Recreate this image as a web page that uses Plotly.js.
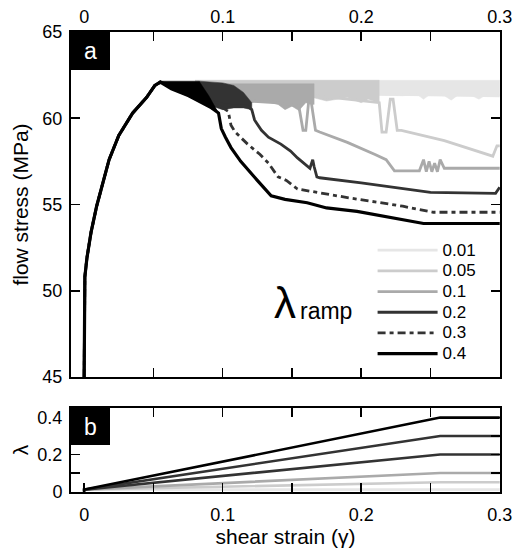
<!DOCTYPE html>
<html>
<head>
<meta charset="utf-8">
<script src="https://cdn.plot.ly/plotly-3.0.1.min.js"></script>
<style>html,body{margin:0;padding:0;background:#fff;}#chart{width:513px;height:556px;}</style>
</head>
<body>
<div id="chart"></div>
<script>
// ---------- data ----------
const lambdaLabels = ['0.01', '0.05', '0.1', '0.2', '0.3', '0.4'];
const lambdaValues = [0.01, 0.05, 0.1, 0.2, 0.3, 0.4];

// shared loading branch (all runs identical up to the peak)
const gammaRise  = [0, 0, 0.0005, 0.002, 0.005, 0.009, 0.0135, 0.018, 0.025, 0.035, 0.045, 0.051, 0.055];
const stressRise = [45, 50, 50.8, 51.9, 53.4, 54.9, 56.2, 57.6, 59.0, 60.3, 61.2, 61.9, 62.1];

// lambda_ramp = 0.01
const gamma001  = [0.07, 0.1, 0.15, 0.2, 0.25, 0.3];
const stress001 = [61.7, 61.6, 61.5, 61.4, 61.35, 61.3];
const bandG001   = [0.08, 0.12, 0.15, 0.17, 0.19, 0.21, 0.23, 0.24, 0.245, 0.25, 0.26, 0.265, 0.27, 0.28, 0.285, 0.29, 0.3];
const bandTop001 = [62.2, 62.2, 62.2, 62.2, 62.2, 62.2, 62.2, 62.2, 62.2, 62.2, 62.2, 62.2, 62.2, 62.2, 62.2, 62.2, 62.2];
const bandBot001 = [61.7, 61.5, 61.45, 61.3, 61.45, 61.35, 61.3, 61.4, 61.1, 61.4, 61.3, 61.05, 61.35, 61.3, 61.1, 61.35, 61.3];

// lambda_ramp = 0.05
const gamma005  = [0.07, 0.12, 0.15, 0.18, 0.2, 0.213, 0.215, 0.218, 0.221, 0.223, 0.226, 0.229, 0.26, 0.295, 0.298, 0.3];
const stress005 = [61.8, 61.7, 61.4, 61.2, 61.0, 60.9, 59.2, 59.2, 61.1, 61.1, 59.3, 59.3, 58.7, 57.8, 58.4, 58.4];
const bandG005   = [0.08, 0.13, 0.16, 0.175, 0.19, 0.2, 0.205, 0.213];
const bandTop005 = [62.2, 62.2, 62.2, 62.2, 62.2, 62.2, 62.2, 62.2];
const bandBot005 = [61.8, 61.6, 61.3, 61.0, 61.2, 60.9, 61.1, 60.9];

// lambda_ramp = 0.1
const gamma010  = [0.07, 0.1, 0.12, 0.14, 0.155, 0.158, 0.16, 0.162, 0.164, 0.167, 0.17, 0.19, 0.21, 0.218, 0.224, 0.242, 0.245, 0.247, 0.249, 0.251, 0.253, 0.255, 0.257, 0.26, 0.3];
const stress010 = [61.8, 61.2, 61.0, 60.9, 60.7, 59.3, 59.3, 60.9, 60.9, 59.3, 59.2, 58.6, 57.9, 57.6, 56.95, 56.95, 57.6, 56.9, 57.5, 56.9, 57.4, 56.9, 57.6, 57.1, 57.1];
const bandG010   = [0.1, 0.12, 0.13, 0.14, 0.145, 0.15, 0.155, 0.16, 0.166];
const bandTop010 = [62.0, 62.0, 62.0, 62.0, 62.0, 62.0, 62.0, 62.0, 62.0];
const bandBot010 = [61.2, 60.9, 61.0, 60.8, 60.5, 60.7, 60.45, 60.9, 60.8];

// lambda_ramp = 0.2
const gamma020  = [0.07, 0.085, 0.1, 0.11, 0.118, 0.121, 0.123, 0.128, 0.133, 0.142, 0.149, 0.154, 0.163, 0.165, 0.166, 0.168, 0.17, 0.185, 0.2, 0.25, 0.297, 0.3];
const stress020 = [61.6, 61.1, 60.8, 60.7, 60.7, 60.5, 59.9, 59.3, 58.9, 58.5, 58.1, 57.7, 57.1, 57.6, 57.2, 56.6, 56.55, 56.4, 56.25, 55.7, 55.65, 56.0];
const bandG020   = [0.083, 0.1, 0.108, 0.115, 0.121];
const bandTop020 = [62.15, 62.05, 61.9, 61.5, 60.9];
const bandBot020 = [60.95, 60.5, 60.6, 60.6, 60.5];

// lambda_ramp = 0.3
const gamma030  = [0.07, 0.085, 0.095, 0.1, 0.104, 0.106, 0.109, 0.118, 0.127, 0.133, 0.14, 0.146, 0.154, 0.161, 0.17, 0.19, 0.21, 0.23, 0.252, 0.3];
const stress030 = [61.6, 61.1, 60.8, 60.6, 60.4, 59.6, 59.2, 58.5, 57.9, 57.4, 56.6, 56.4, 55.9, 55.8, 55.7, 55.4, 55.15, 54.9, 54.55, 54.55];

// lambda_ramp = 0.4
const gamma040  = [0.063, 0.0755, 0.085, 0.092, 0.097, 0.099, 0.102, 0.106, 0.113, 0.121, 0.125, 0.135, 0.145, 0.161, 0.175, 0.197, 0.22, 0.245, 0.3];
const stress040 = [61.7, 61.3, 60.9, 60.6, 60.3, 59.4, 58.9, 58.3, 57.5, 56.8, 56.4, 55.5, 55.3, 55.1, 54.8, 54.6, 54.25, 53.9, 53.9];
const bandG040   = [0.054, 0.063, 0.0755, 0.083, 0.09, 0.097];
const bandTop040 = [62.15, 62.15, 62.15, 62.15, 61.3, 60.3];
const bandBot040 = [62.1, 61.7, 61.3, 60.95, 60.65, 60.3];

// panel b: lambda(gamma) ramps
const rampGamma = [0, 0, 0.257, 0.3];
const rampStart = 0.01;

// ---------- styles ----------
const colors = ['#e6e6e6', '#cccccc', '#aaaaaa', '#333333', '#333333', '#000000'];
const dashes = ['solid', 'solid', 'solid', 'solid', '8px,4px,4px,4px', 'solid'];
const widths = [2.8, 2.8, 2.8, 2.8, 2.8, 3.2];
const FONT = 'Liberation Sans, Arial, Helvetica, sans-serif';

const tails = [
  [gamma001, stress001], [gamma005, stress005], [gamma010, stress010],
  [gamma020, stress020], [gamma030, stress030], [gamma040, stress040]
];
const bands = [
  [bandG001, bandTop001, bandBot001], [bandG005, bandTop005, bandBot005],
  [bandG010, bandTop010, bandBot010], [bandG020, bandTop020, bandBot020],
  null, [bandG040, bandTop040, bandBot040]
];

const traces = [];
for (let i = 0; i < lambdaLabels.length; i++) {
  const b = bands[i];
  if (b) {
    traces.push({
      x: b[0].concat(b[0].slice().reverse()),
      y: b[1].concat(b[2].slice().reverse()),
      xaxis: 'x', yaxis: 'y', mode: 'lines', fill: 'toself',
      fillcolor: colors[i], line: {width: 0.5, color: colors[i]},
      showlegend: false, hoverinfo: 'skip'
    });
  }
  traces.push({
    x: gammaRise.concat(tails[i][0]),
    y: stressRise.concat(tails[i][1]),
    xaxis: 'x', yaxis: 'y', mode: 'lines',
    name: '<span style="font-size:17px">' + lambdaLabels[i] + '</span>',
    line: {color: colors[i], width: widths[i], dash: dashes[i]}
  });
}
for (let i = 0; i < lambdaValues.length; i++) {
  traces.push({
    x: rampGamma,
    y: [0, rampStart, lambdaValues[i], lambdaValues[i]],
    xaxis: 'x2', yaxis: 'y2', mode: 'lines', showlegend: false,
    line: {color: colors[i], width: 2.6}
  });
}

const axisCommon = {
  showline: true, linewidth: 2, linecolor: '#000', mirror: 'ticks',
  ticks: 'inside', ticklen: 9, tickwidth: 1.6, tickcolor: '#000',
  showgrid: false, zeroline: false, ticklabeloverflow: 'allow',
  tickfont: {size: 18, color: '#000', family: FONT}
};
const xRange = [-0.0095, 0.3002];
const xTickVals = [0, 0.05, 0.1, 0.15, 0.2, 0.25, 0.3];
const xTickText = ['0', '', '0.1', '', '0.2', '', '0.3'];

const layout = {
  width: 513, height: 556,
  margin: {l: 71, r: 13, t: 32, b: 64},
  paper_bgcolor: '#fff', plot_bgcolor: '#fff',
  font: {family: FONT, color: '#000'},
  showlegend: true,
  legend: {
    x: 0.703, y: 0.559, xanchor: 'left', yanchor: 'top',
    bgcolor: 'rgba(0,0,0,0)', borderwidth: 0,
    font: {size: 13.6, family: FONT, color: '#000'},
    itemwidth: 60, tracegroupgap: 0
  },
  xaxis: Object.assign({}, axisCommon, {
    domain: [0, 1], anchor: 'y', side: 'top', range: xRange,
    tickmode: 'array', tickvals: xTickVals, ticktext: xTickText, ticklabelstandoff: 0
  }),
  yaxis: Object.assign({}, axisCommon, {
    domain: [0.25, 1], anchor: 'x', range: [45, 65],
    tickmode: 'array', tickvals: [45, 50, 55, 60, 65], ticklabelstandoff: 3,
    title: {text: 'flow stress (MPa)', font: {size: 21, family: FONT}, standoff: 8}
  }),
  xaxis2: Object.assign({}, axisCommon, {
    domain: [0, 1], anchor: 'y2', side: 'bottom', range: xRange,
    tickmode: 'array', tickvals: xTickVals, ticktext: xTickText, ticklabelstandoff: 5,
    title: {text: 'shear strain (γ)', font: {size: 21, family: FONT}, standoff: 5}
  }),
  yaxis2: Object.assign({}, axisCommon, {
    domain: [0, 0.183], anchor: 'x2', range: [-0.003, 0.453],
    tickmode: 'array', tickvals: [0, 0.1, 0.2, 0.3, 0.4], ticktext: ['0', '', '0.2', '', '0.4'],
    ticklabelstandoff: 3,
    title: {text: 'λ', font: {size: 21, family: FONT}, standoff: 3}
  }),
  annotations: [
    {xref: 'paper', yref: 'paper', x: 0, y: 1, xanchor: 'left', yanchor: 'top',
     text: 'a', showarrow: false, width: 39, height: 38, bgcolor: '#000',
     borderpad: 0, borderwidth: 0, font: {size: 23, color: '#fff', family: FONT}},
    {xref: 'paper', yref: 'paper', x: 0, y: 0.183, xanchor: 'left', yanchor: 'top',
     text: 'b', showarrow: false, width: 39, height: 37, bgcolor: '#000',
     borderpad: 0, borderwidth: 0, font: {size: 23, color: '#fff', family: FONT}},
    {xref: 'paper', yref: 'paper', x: (298 - 71) / 429, y: (492 - 302) / 460,
     xanchor: 'right', yanchor: 'middle', text: 'λ', showarrow: false,
     font: {size: 44, family: FONT, color: '#000'}},
    {xref: 'paper', yref: 'paper', x: (298 - 71) / 429, y: (492 - 311) / 460,
     xanchor: 'left', yanchor: 'middle', text: 'ramp', showarrow: false,
     font: {size: 23, family: FONT, color: '#000'}}
  ]
};

Plotly.newPlot('chart', traces, layout, {staticPlot: true, displayModeBar: false});
</script>
</body>
</html>
